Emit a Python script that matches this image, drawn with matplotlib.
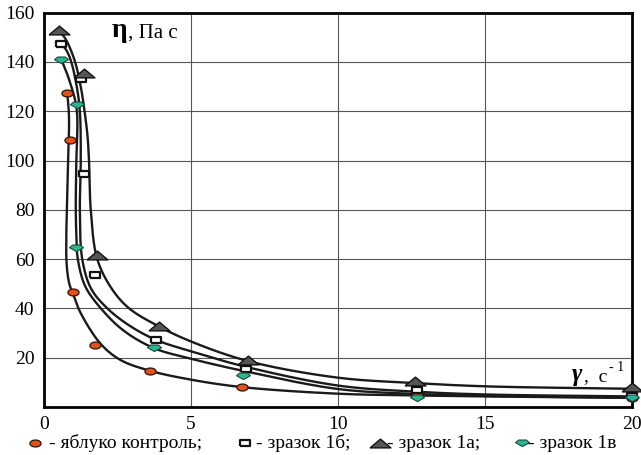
import numpy as np
import matplotlib
matplotlib.use("Agg")
import matplotlib.pyplot as plt

plt.rcParams["font.family"] = "serif"
plt.rcParams["font.serif"] = ["Liberation Serif", "DejaVu Serif"]

ctrl_x = [0.79, 0.87, 1.0, 1.73, 3.61, 6.72, 12.67, 20.0]
ctrl_y = [127.5, 108.3, 46.5, 25, 14.6, 8, 4.9, 3.6]
s1b_x = [0.57, 1.27, 1.36, 1.73, 3.80, 6.87, 12.67, 20.0]
s1b_y = [147.5, 132.9, 94.5, 53.4, 27.2, 15.4, 6.9, 4.2]
s1a_x = [0.51, 1.36, 1.81, 3.91, 6.95, 12.62, 19.99]
s1a_y = [153, 135.4, 61.6, 32.6, 19, 10.3, 8]
s1v_x = [0.59, 1.13, 1.08, 3.74, 6.76, 12.67, 20.0]
s1v_y = [141, 122.7, 64.6, 23.8, 12.3, 3.5, 3.5]

# hand-drawn trend lines
ctrl_fx = [0.79, 0.85, 0.82, 0.78, 0.76, 0.77, 0.86, 1.0, 1.25, 1.93, 2.6, 3.61, 5.0, 6.72, 10, 12.67, 15, 20]
ctrl_fy = [127.5, 118, 100, 82, 70, 58, 50, 45.5, 38, 25.5, 19, 14.6, 11, 8, 5.3, 4.6, 4.2, 3.6]
s1b_fx = [0.57, 0.75, 0.91, 1.1, 1.22, 1.25, 1.22, 1.30, 1.6, 2.15, 2.9, 3.8, 5.0, 6.87, 10, 12.67, 15, 20]
s1b_fy = [147.5, 145, 140.7, 131, 120, 100, 80, 60, 48, 40, 33, 27.2, 22.5, 16.2, 8.6, 6.1, 5.0, 4.2]
s1a_fx = [0.51, 0.75, 1.04, 1.25, 1.38, 1.48, 1.53, 1.59, 1.81, 2.3, 2.89, 3.91, 5.0, 6.95, 10, 12.67, 15, 20]
s1a_fy = [153, 149, 140.7, 130, 120, 110, 100, 80, 60, 48, 40, 32.6, 26.5, 18.5, 11.8, 9.6, 8.3, 7.3]
s1v_fx = [0.59, 0.85, 1.11, 1.10, 1.08, 1.10, 1.15, 1.4, 1.93, 2.7, 3.74, 5.0, 6.8, 10, 12.67, 15, 20]
s1v_fy = [141, 133, 121, 100, 82, 70, 60, 49, 40, 31, 23.8, 19.5, 14.5, 7.2, 5.2, 4.4, 3.7]

x_ticks = [0, 5, 10, 15, 20]
y_ticks = [20, 40, 60, 80, 100, 120, 140, 160]
labels = ["- яблуко контроль;", "- зразок 1б;", "- зразок 1а;", "- зразок 1в"]


def smooth(xs, ys, n=30):
    # centripetal catmull-rom, in screen-like units
    sx, sy = 591 / 20, 394 / 160
    p = np.column_stack([np.asarray(xs) * sx, np.asarray(ys) * sy])
    p = np.vstack([2 * p[0] - p[1], p, 2 * p[-1] - p[-2]])
    out = []
    for i in range(1, len(p) - 2):
        p0, p1, p2, p3 = p[i - 1], p[i], p[i + 1], p[i + 2]
        t0 = 0.0
        t1 = t0 + np.linalg.norm(p1 - p0) ** 0.5
        t2 = t1 + np.linalg.norm(p2 - p1) ** 0.5
        t3 = t2 + np.linalg.norm(p3 - p2) ** 0.5
        t = np.linspace(t1, t2, n)[:, None]
        a1 = (t1 - t) / (t1 - t0) * p0 + (t - t0) / (t1 - t0) * p1
        a2 = (t2 - t) / (t2 - t1) * p1 + (t - t1) / (t2 - t1) * p2
        a3 = (t3 - t) / (t3 - t2) * p2 + (t - t2) / (t3 - t2) * p3
        b1 = (t2 - t) / (t2 - t0) * a1 + (t - t0) / (t2 - t0) * a2
        b2 = (t3 - t) / (t3 - t1) * a2 + (t - t1) / (t3 - t1) * a3
        out.append((t2 - t) / (t2 - t1) * b1 + (t - t1) / (t2 - t1) * b2)
    c = np.vstack(out)
    return c[:, 0] / sx, c[:, 1] / sy


ell = [(np.cos(a), 0.62 * np.sin(a)) for a in np.linspace(0, 2 * np.pi, 24)]
rect = [(-1, -0.7), (1, -0.7), (1, 0.7), (-1, 0.7), (-1, -0.7)]
tri = [(-1, -0.42), (1, -0.42), (0, 0.42), (-1, -0.42)]
pent = [(-0.9, 0.1), (-0.5, 0.45), (0.5, 0.45), (0.9, 0.1), (0, -0.4), (-0.9, 0.1)]

styles = [
    dict(marker=ell, ms=8, mfc="#e4521c", mec="#3a1c10", mew=1.0),
    dict(marker=rect, ms=7, mfc="white", mec="#111111", mew=1.6),
    dict(marker=tri, ms=15, mfc="#555555", mec="#111111", mew=1.0),
    dict(marker=pent, ms=10, mfc="#2bb592", mec="#1d4a40", mew=0.8),
]
points = [(ctrl_x, ctrl_y), (s1b_x, s1b_y), (s1a_x, s1a_y), (s1v_x, s1v_y)]
fits = [(ctrl_fx, ctrl_fy), (s1b_fx, s1b_fy), (s1a_fx, s1a_fy), (s1v_fx, s1v_fy)]

fig = plt.figure(figsize=(6.41, 4.55), dpi=100)
ax = fig.add_axes([0.0686, 0.106, 0.918, 0.866])

for fx, fy in fits:
    cx, cy = smooth(fx, fy)
    ax.plot(cx, cy, color="#1a1a1a", lw=1.7, zorder=3)
for (xs, ys), st in zip(points, styles):
    ax.plot(xs, ys, ls="none", zorder=4, clip_on=False, **st)

ax.set_xlim(0, 20)
ax.set_ylim(0, 160)
ax.set_xticks(x_ticks)
ax.set_yticks(y_ticks)
ax.tick_params(length=0, labelsize=14, pad=7)
ax.grid(True, color="#555555", lw=0.8)
ax.set_axisbelow(True)
for sp in ax.spines.values():
    sp.set_linewidth(2)

ax.text(2.3, 150, "η", fontsize=20, fontweight="bold", ha="left", va="baseline")
ax.text(2.85, 150, ", Па с", fontsize=15, ha="left", va="baseline")
ax.text(17.95, 10.5, "γ", fontsize=18, fontweight="bold", style="italic", ha="left", va="baseline")
ax.text(18.35, 10.5, ",  с", fontsize=14, ha="left", va="baseline")
ax.text(19.2, 14.5, "- 1", fontsize=10, ha="left", va="baseline")

# legend row under the axes
mk_x = [35, 245, 380, 522]
tx_x = [49, 256, 387, 528]
for st, lab, mx, tx in zip(styles, labels, mk_x, tx_x):
    fig.add_artist(plt.Line2D([mx / 641], [1 - 443 / 455], ls="none",
                              transform=fig.transFigure, **st))
    fig.text(tx / 641, 1 - 443 / 455, lab, fontsize=14, ha="left", va="center")

fig.savefig("out.png", dpi=100)
